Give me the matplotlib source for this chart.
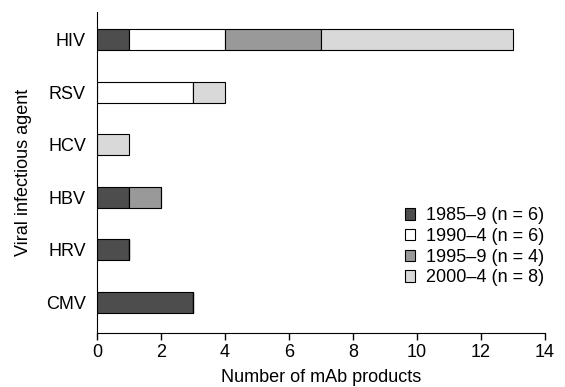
import matplotlib
matplotlib.use("Agg")
import matplotlib.pyplot as plt
from matplotlib.patches import Patch
import numpy as np

plt.rcParams['font.family'] = ['Liberation Sans', 'DejaVu Sans']

agents = ["CMV", "HRV", "HBV", "HCV", "RSV", "HIV"]
periods = ["1985\u20139 (n = 6)", "1990\u20134 (n = 6)", "1995\u20139 (n = 4)", "2000\u20134 (n = 8)"]
p1985 = [3, 1, 1, 0, 0, 1]
p1990 = [0, 0, 0, 0, 3, 3]
p1995 = [0, 0, 1, 0, 0, 3]
p2000 = [0, 0, 0, 1, 1, 6]
colors = ["#4d4d4d", "#ffffff", "#999999", "#d9d9d9"]

fig = plt.figure(figsize=(5.65, 3.87), dpi=100)
ax = fig.add_axes([0.1717, 0.1395, 0.793, 0.8295])

y = np.arange(len(agents))
left = np.zeros(len(agents))
for vals, c, lab in zip([p1985, p1990, p1995, p2000], colors, periods):
    v = np.array(vals, dtype=float)
    ax.barh(y, v, left=left, height=0.4, color=c, edgecolor="black", linewidth=0.8, label=lab)
    left += v

fs = 13
ax.set_xlim(0, 14)
ax.set_ylim(-0.59, 5.53)
ax.set_xticks(range(0, 15, 2))
ax.set_yticks(y)
ax.set_yticklabels(agents)
ax.tick_params(axis='y', length=0, pad=8, labelsize=fs)
ax.tick_params(axis='x', length=5, width=1, labelsize=fs, direction='out', pad=3)
ax.spines['top'].set_visible(False)
ax.spines['right'].set_visible(False)
ax.set_xlabel("Number of mAb products", fontsize=fs, labelpad=6)
ax.set_ylabel("Viral infectious agent", fontsize=fs, labelpad=10)

handles = [Patch(facecolor=c, edgecolor="black", linewidth=0.8) for c in colors]
ax.legend(handles, periods, loc="lower right", bbox_to_anchor=(1.035, 0.095), frameon=False,
          fontsize=fs, handlelength=0.6, handleheight=0.6, handletextpad=0.6, labelspacing=0.2)

fig.savefig("out.png", dpi=100)
